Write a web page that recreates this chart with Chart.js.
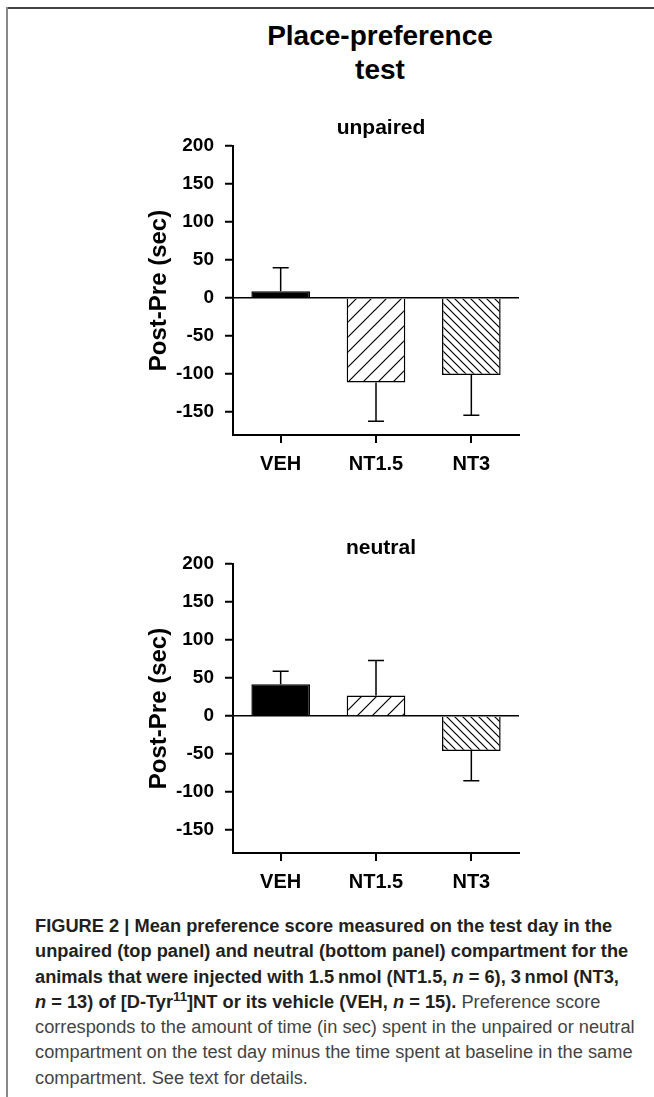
<!DOCTYPE html>
<html lang="en">
<head>
<meta charset="UTF-8" />
<title>Place-preference test</title>
<script src="https://cdn.jsdelivr.net/npm/chart.js"></script>
<style>
  body { margin: 0; width: 654px; height: 1097px; position: relative; overflow: hidden; background: #fff;
         font-family: "Liberation Sans", Arial, sans-serif; }
  .frame-top { position: absolute; left: 6px; top: 7px; width: 648px; height: 2px; background: #444; }
  .frame-left { position: absolute; left: 6px; top: 7px; width: 2px; height: 1090px; background: #888; }
  h1 { position: absolute; left: 230px; width: 300px; top: 19px; margin: 0; text-align: center;
       font-size: 28px; line-height: 34px; font-weight: bold; color: #000; }
  canvas.panel { position: absolute; left: 120px; }
  #caption { position: absolute; left: 35px; top: 914px; font-size: 18px; line-height: 25.3px;
             color: #444; white-space: nowrap; transform-origin: left top; }
  #caption b { color: #231f20; }
  #caption sup { font-size: 13px; line-height: 0; vertical-align: baseline; position: relative; top: -7px; }
</style>
</head>
<body>
<div class="frame-top"></div>
<div class="frame-left"></div>
<h1>Place-preference<br>test</h1>

<canvas id="unpairedChart" class="panel" width="420" height="385" style="top:100px"></canvas>
<canvas id="neutralChart" class="panel" width="420" height="385" style="top:518px"></canvas>

<div id="caption">
  <div class="ln"><b>FIGURE 2 | Mean preference score measured on the test day in the</b></div>
  <div class="ln"><b>unpaired (top panel) and neutral (bottom panel) compartment for the</b></div>
  <div class="ln"><b>animals that were injected with 1.5&#8201;nmol (NT1.5, <i>n</i> = 6), 3&#8201;nmol (NT3,</b></div>
  <div class="ln"><b><i>n</i> = 13) of [D-Tyr<sup>11</sup>]NT or its vehicle (VEH, <i>n</i> = 15).</b> Preference score</div>
  <div class="ln">corresponds to the amount of time (in sec) spent in the unpaired or neutral</div>
  <div class="ln">compartment on the test day minus the time spent at baseline in the same</div>
  <div class="ln">compartment. See text for details.</div>
</div>

<script>
  // === Données ===
  const categories = ["VEH", "NT1.5", "NT3"];
  const unpairedMeans = [9, -111, -101];
  const unpairedErrors = [31, 51, 53];
  const neutralMeans = [42, 27, -46];
  const neutralErrors = [17, 46, 39];
  const yTicks = [200, 150, 100, 50, 0, -50, -100, -150];
  const yMin = -180;
  const yMax = 200;

  Chart.defaults.font.family = '"Liberation Sans", Arial, sans-serif';
  Chart.defaults.color = "#000";

  // hachures : "/" large pour NT1.5, "\" serré pour NT3
  function hatch(period, dir) {
    const c = document.createElement("canvas");
    c.width = c.height = period;
    const g = c.getContext("2d");
    g.fillStyle = "#fff";
    g.fillRect(0, 0, period, period);
    g.strokeStyle = "#000";
    g.lineWidth = 1.2;
    g.beginPath();
    if (dir === "/") {
      g.moveTo(-1, period + 1); g.lineTo(period + 1, -1);
      g.moveTo(-2, 2); g.lineTo(2, -2);
      g.moveTo(period - 2, period + 2); g.lineTo(period + 2, period - 2);
    } else {
      g.moveTo(-1, -1); g.lineTo(period + 1, period + 1);
      g.moveTo(period - 2, -2); g.lineTo(period + 2, 2);
      g.moveTo(-2, period - 2); g.lineTo(2, period + 2);
    }
    g.stroke();
    return g.createPattern(c, "repeat");
  }
  const barFills = ["#000", hatch(15, "/"), hatch(8, "\\")];

  // barres d'erreur (seulement vers l'extérieur)
  const errorBars = {
    id: "errorBars",
    afterDatasetsDraw(chart) {
      const { ctx, scales: { y } } = chart;
      const ds = chart.data.datasets[0];
      const meta = chart.getDatasetMeta(0);
      ctx.save();
      ctx.strokeStyle = "#000";
      ctx.lineWidth = 1.5;
      meta.data.forEach((bar, i) => {
        const v = ds.data[i];
        const end = v >= 0 ? v + ds.errors[i] : v - ds.errors[i];
        const y0 = y.getPixelForValue(v);
        const y1 = y.getPixelForValue(end);
        ctx.beginPath();
        ctx.moveTo(bar.x, y0);
        ctx.lineTo(bar.x, y1);
        ctx.moveTo(bar.x - 8, y1);
        ctx.lineTo(bar.x + 8, y1);
        ctx.stroke();
      });
      ctx.restore();
    },
  };

  // titre du panneau au-dessus de la zone du graphique
  const panelTitle = {
    id: "panelTitle",
    afterDraw(chart, args, opts) {
      const { ctx, chartArea } = chart;
      ctx.save();
      ctx.font = 'bold 21px "Liberation Sans", Arial, sans-serif';
      ctx.fillStyle = "#000";
      ctx.textAlign = "center";
      ctx.textBaseline = "alphabetic";
      ctx.fillText(opts.text, (chartArea.left + chartArea.right) / 2 + 5, chartArea.top - opts.gap);
      ctx.restore();
    },
  };

  function makePanel(id, title, gap, means, errors) {
    return new Chart(document.getElementById(id), {
      type: "bar",
      data: {
        labels: categories,
        datasets: [
          {
            data: means,
            errors: errors,
            backgroundColor: barFills,
            borderColor: "#000",
            borderWidth: 1.5,
            barPercentage: 0.615,
            categoryPercentage: 1,
          },
        ],
      },
      options: {
        responsive: false,
        animation: false,
        layout: { padding: { top: 46, right: 21, bottom: 0, left: 0 } },
        plugins: {
          legend: { display: false },
          tooltip: { enabled: false },
          panelTitle: { text: title, gap: gap },
        },
        scales: {
          x: {
            afterFit: (s) => { s.height = 50; },
            border: { color: "#000", width: 2 },
            grid: { drawOnChartArea: false, offset: false, color: "#000", lineWidth: 2, tickLength: 8 },
            ticks: { color: "#000", font: { size: 20, weight: "bold" }, padding: 9 },
          },
          y: {
            min: yMin,
            max: yMax,
            afterBuildTicks: (s) => { s.ticks = yTicks.map((v) => ({ value: v })); },
            afterFit: (s) => { s.width = 113; },
            border: { color: "#000", width: 2 },
            grid: {
              color: (c) => (c.tick && c.tick.value === 0 ? "#000" : "rgba(0,0,0,0)"),
              lineWidth: 1.5,
              tickColor: "#000",
              tickWidth: 2,
              tickLength: 8,
            },
            ticks: { color: "#000", font: { size: 19, weight: "bold" }, padding: 11 },
            title: {
              display: true,
              text: "Post-Pre (sec)",
              color: "#000",
              font: { size: 24, weight: "bold" },
              padding: { top: 24.6, bottom: 0 },
            },
          },
        },
      },
      plugins: [errorBars, panelTitle],
    });
  }

  makePanel("unpairedChart", "unpaired", 12, unpairedMeans, unpairedErrors);
  makePanel("neutralChart", "neutral", 10, neutralMeans, neutralErrors);

  // ajuster la légende à la largeur de la colonne
  const cap = document.getElementById("caption");
  const firstLine = cap.querySelector(".ln b");
  const w = firstLine.getBoundingClientRect().width;
  cap.style.transform = "scaleX(" + (577 / w).toFixed(3) + ")";
</script>
</body>
</html>
